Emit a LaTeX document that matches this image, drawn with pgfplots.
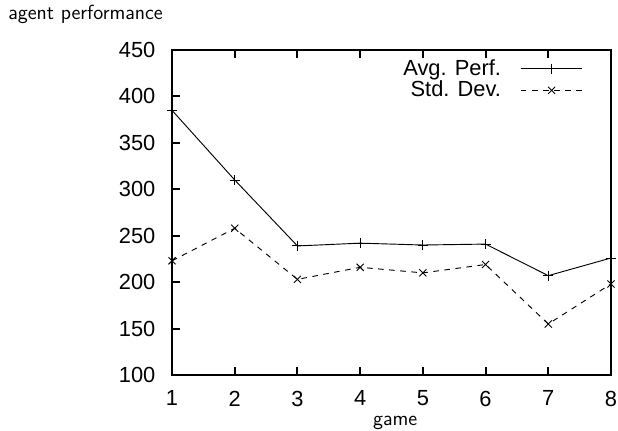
\documentclass[border=0pt]{standalone}
\usepackage{fontspec}
\usepackage{pgfplots}
\pgfplotsset{compat=1.18}
\newfontfamily\helv{Liberation Sans}

\begin{document}
\begin{tikzpicture}
  \useasboundingbox (-92.9pt,-29.7pt) rectangle (240.8pt,202.5pt);
  \begin{axis}[
    at={(0,0)}, anchor=south west,
    width=237pt, height=175.5pt,
    scale only axis,
    xmin=1, xmax=8, ymin=100, ymax=450,
    xtick={1,...,8},
    ytick={100,150,...,450},
    tick align=inside,
    xtick pos=both, ytick pos=left,
    major tick length=4.3pt,
    axis line style={line width=1.1pt},
    every tick/.style={black, line width=1.1pt},
    /pgf/number format/assume math mode=true,
    ticklabel style={font=\helv\fontsize{11.8}{14}\selectfont},
    xticklabel style={yshift=-5pt},
    yticklabel style={xshift=-5.5pt},
    xlabel={game},
    xlabel style={font=\fontsize{11}{13}\sffamily, at={(axis description cs:0.5,0)},
      anchor=base, yshift=-27pt, xshift=2pt},
    legend style={draw=none, fill=none, inner sep=0pt,
      at={(1,1)}, anchor=north east, xshift=-15pt, yshift=-3pt,
      font=\helv\fontsize{11.8}{14}\selectfont, row sep=-2.5pt,
      /tikz/every odd column/.append style={column sep=8.5pt}},
    legend plot pos=right,
    legend cell align=right,
    legend image code/.code={
      \draw[mark repeat=2, mark phase=2, #1]
        plot coordinates {(0pt,0pt) (16.6pt,0pt) (33.2pt,0pt)};
    },
  ]
  \addplot[black, line width=0.5pt, mark=+, mark size=2.7pt] coordinates {
    (1,385) (2,310) (3,239) (4,242) (5,240) (6,241) (7,207) (8,226)
  };
  \addlegendentry{Avg. Perf.}
  \addplot[black, line width=0.5pt, dashed, mark=x, mark size=2.7pt,
    mark options={solid}] coordinates {
    (1,223) (2,258) (3,203) (4,216) (5,210) (6,219) (7,155) (8,198)
  };
  \addlegendentry{Std. Dev.}
  \end{axis}
  \node[anchor=base west, inner sep=0pt, font=\fontsize{11}{13}\sffamily]
    at (-88.6pt,191.7pt) {agent performance};
\end{tikzpicture}
\end{document}
